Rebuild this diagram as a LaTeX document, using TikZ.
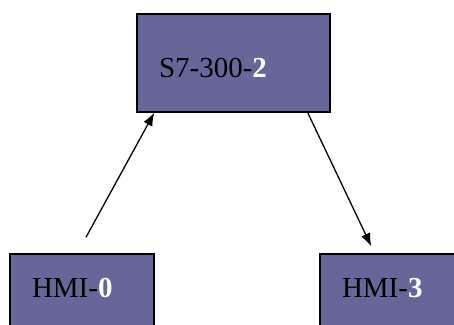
\documentclass[tikz,border=0pt]{standalone}
\usepackage{fontspec}
\setmainfont{Liberation Serif}
\usetikzlibrary{arrows.meta,positioning}
\definecolor{StationBlue}{HTML}{666699}

\begin{document}
\begin{tikzpicture}[x=1pt, y=1pt, >={Latex[length=13pt,width=10pt]},
    font=\fontsize{29}{31}\selectfont,
    station/.style={draw=black, line width=1.5pt, fill=StationBlue,
      align=left, inner xsep=22pt, inner ysep=0pt},
    link/.style={->, line width=1.3pt}]
  \useasboundingbox (0,0) rectangle (454,324);
  \clip (0,0) rectangle (454,324);

  % controller on top, panels below
  \node[station, text width=149pt, minimum height=98pt,
        text height=30pt, text depth=0pt] (plc) at (233.5,261)
    {S7-300-\textbf{\textcolor{white}{2}}};
  \node[station, text width=100pt, minimum height=98pt,
        text height=12pt, text depth=24pt] (hmi0) at (82,21)
    {HMI-\textbf{\textcolor{white}{0}}};
  \node[station, text width=100pt, minimum height=98pt,
        text height=12pt, text depth=24pt] (hmi3) at (392,21)
    {HMI-\textbf{\textcolor{white}{3}}};

  \coordinate (up0) at ([shift={(4pt,16pt)}]hmi0.north);
  \coordinate (down3) at ([xshift=-23pt]plc.south east);
  \draw[link] (up0) -- ([xshift=18pt]plc.south west);
  \draw[link] (down3) -- ([shift={(52pt,7pt)}]hmi3.north west);
\end{tikzpicture}
\end{document}
